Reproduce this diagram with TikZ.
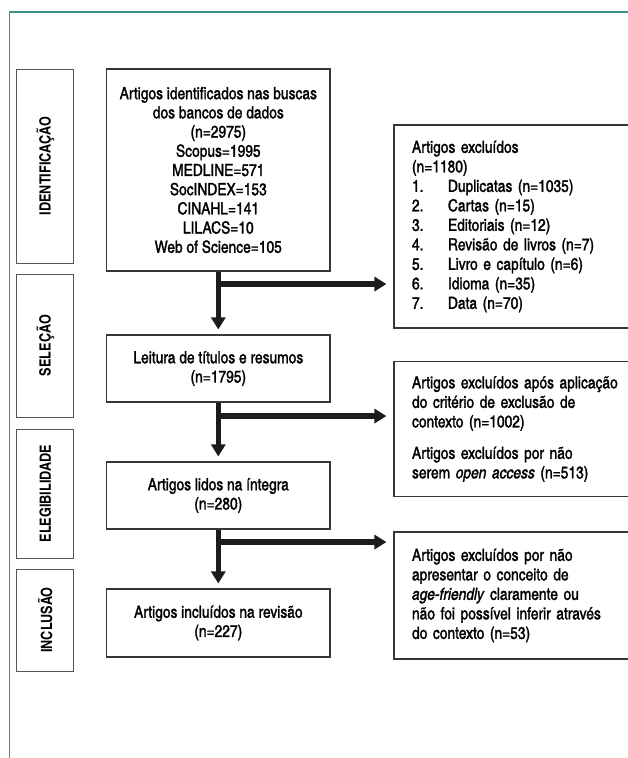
\documentclass[tikz,border=0pt]{standalone}
\usepackage{fontspec}
\setmainfont{texgyreheroscn}[Extension=.otf, UprightFont=*-regular, BoldFont=*-bold, ItalicFont=*-italic, BoldItalicFont=*-bolditalic, UprightFeatures={FakeBold=1.6}, ItalicFeatures={FakeBold=1.6}]
\usetikzlibrary{arrows.meta,calc}
\definecolor{frameteal}{RGB}{62,146,134}
\definecolor{boxline}{RGB}{55,55,55}
\definecolor{labline}{RGB}{85,85,85}
\definecolor{arrowdark}{RGB}{28,28,28}
\newcommand{\itm}[2]{\makebox[36pt][l]{#1}#2}
\begin{document}
\begin{tikzpicture}[x=1pt,y=-1pt,
  mainbox/.style={draw=boxline, line width=1.1pt, minimum width=223.3pt, inner sep=0pt, align=center,
    font=\fontsize{16.8pt}{19.2pt}\selectfont},
  labbox/.style={draw=labline, line width=1pt, rotate=90, minimum height=57.3pt, inner sep=0pt,
    font=\bfseries\fontsize{15.5pt}{17pt}\selectfont},
  sidebox/.style={draw=boxline, line width=1.1pt, minimum width=256pt, inner xsep=18pt, inner ysep=0pt,
    text width=220pt, align=left, font=\fontsize{16.8pt}{19.5pt}\selectfont},
  downarrow/.style={draw=arrowdark, line width=5.5pt, -{Triangle[width=14pt,length=12pt]}, shorten >=5pt},
  sidearrow/.style={draw=arrowdark, line width=5.5pt, -{Triangle[width=14pt,length=12pt]}, shorten >=7pt},
  frameline/.style={draw=frameteal, line width=1.6pt}
]
\useasboundingbox (0,0) rectangle (627,758);
% frame
\draw[frameline] (9.5,760) -- (9.5,11.7) -- (640,11.7);

% stage labels
\node[labbox, minimum width=194pt] (lid) at (45.3,166) {IDENTIFICAÇÃO};
\node[labbox, minimum width=143pt] (lsel) at (45.3,345.5) {SELEÇÃO};
\node[labbox, minimum width=129pt] (leleg) at (45.3,493.5) {ELEGIBILIDADE};
\node[labbox, minimum width=102pt] (lincl) at (45.3,620) {INCLUSÃO};

% main flow
\node[mainbox, minimum height=202pt] (b1) at (218.3,170) {Artigos identificados nas buscas\\dos bancos de dados\\(n=2975)\\Scopus=1995\\MEDLINE=571\\SocINDEX=153\\CINAHL=141\\LILACS=10\\Web of Science=105};
\node[mainbox, minimum height=67pt] (b2) at (218.3,368.5) {Leitura de títulos e resumos\\(n=1795)};
\node[mainbox, minimum height=67pt] (b3) at (218.3,495.5) {Artigos lidos na íntegra\\(n=280)};
\node[mainbox, minimum height=68pt] (b4) at (218.3,623) {Artigos incluídos na revisão\\(n=227)};

% exclusions
\node[sidebox, minimum height=203pt] (e1) at (522,226.5) {Artigos excluídos\\(n=1180)\\\itm{1.}{Duplicatas (n=1035)}\\\itm{2.}{Cartas (n=15)}\\\itm{3.}{Editoriais (n=12)}\\\itm{4.}{Revisão de livros (n=7)}\\\itm{5.}{Livro e capítulo (n=6)}\\\itm{6.}{Idioma (n=35)}\\\itm{7.}{Data (n=70)}};
\node[sidebox, minimum height=135pt] (e2) at (522,429) {Artigos excluídos após aplicação\\do critério de exclusão de\\contexto (n=1002)\\[12pt]Artigos excluídos por não\\serem \textit{open access} (n=513)};
\node[sidebox, minimum height=127pt] (e3) at (522,595.5) {Artigos excluídos por não\\apresentar o conceito de\\\textit{age-friendly} claramente ou\\não foi possível inferir através\\do contexto (n=53)};

% junctions
\coordinate (j1) at ($(b1.south)+(0,12.5)$);
\coordinate (j2) at ($(b2.south)+(0,13.5)$);
\coordinate (j3) at ($(b3.south)+(0,12.5)$);

% arrows
\draw[downarrow] (b1.south) -- (b2.north);
\draw[downarrow] (b2.south) -- (b3.north);
\draw[downarrow] (b3.south) -- (b4.north);
\draw[sidearrow] ([xshift=-2.75pt]j1) -- (j1 -| e1.west);
\draw[sidearrow] ([xshift=-2.75pt]j2) -- (j2 -| e2.west);
\draw[sidearrow] ([xshift=-2.75pt]j3) -- (j3 -| e3.west);
\end{tikzpicture}
\end{document}
